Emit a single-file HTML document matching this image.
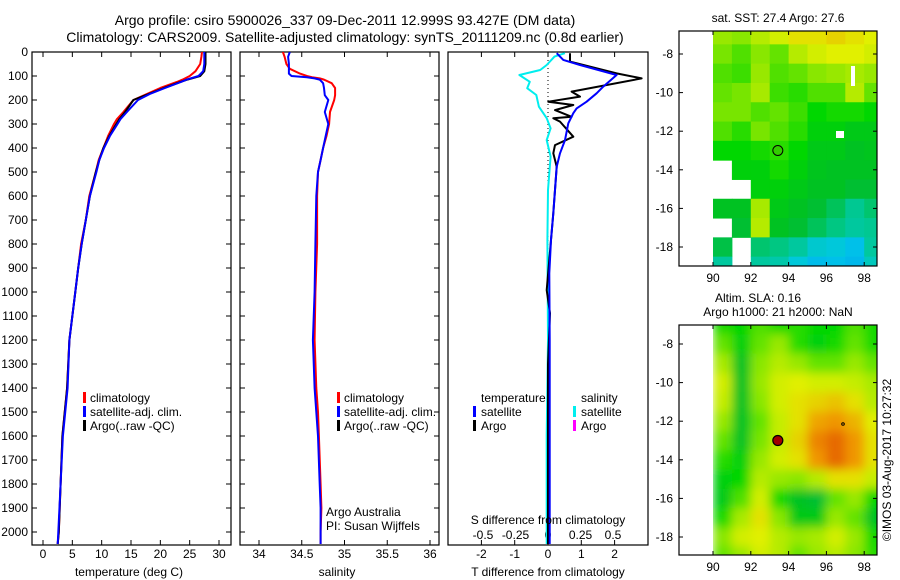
<!DOCTYPE html>
<html><head><meta charset="utf-8"><style>
html,body{margin:0;padding:0;background:#fff;}
svg{display:block;font-family:"Liberation Sans",sans-serif;}
text{fill:#000;}
</style></head><body>
<svg id="fig" width="900" height="580" viewBox="0 0 900 580">
<defs>
<clipPath id="clipTop"><rect x="679" y="31" width="198" height="235"/></clipPath>
<clipPath id="clipBot"><rect x="713" y="325" width="164" height="230"/></clipPath>
<clipPath id="clipP1"><rect x="32" y="52" width="199" height="493"/></clipPath>
<clipPath id="clipP2"><rect x="240" y="52" width="199" height="493"/></clipPath>
<clipPath id="clipP3"><rect x="448" y="52" width="200" height="493"/></clipPath>
<filter id="blurF" x="-10%" y="-10%" width="120%" height="120%"><feGaussianBlur stdDeviation="5"/></filter>
</defs>
<text x="345" y="25" font-size="14" text-anchor="middle">Argo profile: csiro 5900026_337 09-Dec-2011 12.999S 93.427E (DM data)</text>
<text x="345" y="42" font-size="14" text-anchor="middle">Climatology: CARS2009. Satellite-adjusted climatology: synTS_20111209.nc (0.8d earlier)</text>
<g id="p1"></g>
<g id="p2"></g>
<g id="p3"></g>
<g id="m1"></g>
<g id="m2"></g>
<text x="778" y="22" font-size="12" text-anchor="middle">sat. SST: 27.4 Argo: 27.6</text>
<text x="758" y="302" font-size="12" text-anchor="middle">Altim. SLA: 0.16</text>
<text x="778" y="316" font-size="12" text-anchor="middle">Argo h1000: 21 h2000: NaN</text>
<text x="0" y="0" font-size="12" text-anchor="middle" transform="translate(891,460) rotate(-90)">©IMOS 03-Aug-2017 10:27:32</text>
</svg>
<script>
// ---------- data ----------
const depthT = [0,20,50,80,100,115,125,150,175,200,250,280,300,350,400,450,500,600,700,800,900,1000,1200,1400,1600,1800,2000,2050];
const tempClim = [27.1,27.0,26.8,26.0,25.0,23.8,22.8,20.0,17.7,15.4,13.7,12.6,12.1,11.1,10.3,9.5,9.0,7.9,7.3,6.5,6.0,5.5,4.5,4.1,3.3,3.0,2.7,2.5];
const tempSat = [27.5,27.5,27.5,27.3,26.5,24.5,23.5,20.8,18.2,16.2,14.3,13.2,12.7,11.4,10.4,9.6,9.1,8.0,7.3,6.6,6.0,5.5,4.5,4.2,3.4,3.0,2.6,2.5];
const tempArgo = [27.7,27.7,27.7,27.5,26.8,24.6,23.4,20.6,18.0,15.4,14.0,13.0,12.5,11.3,10.3,9.6,9.0,8.0,7.3,6.6,6.0,5.5,4.5,4.1,3.3,3.0,2.7,2.5];
const depthS = [0,20,50,70,90,100,105,110,115,130,150,180,200,250,300,350,400,450,500,600,800,1000,1200,1400,1500,1600,1800,1900,2000,2050];
const salClim = [34.28,34.30,34.32,34.36,34.48,34.56,34.62,34.71,34.76,34.85,34.89,34.89,34.88,34.83,34.82,34.79,34.75,34.72,34.69,34.68,34.68,34.66,34.65,34.67,34.69,34.70,34.72,34.73,34.72,34.72];
const salSat = [34.36,34.34,34.35,34.35,34.35,34.38,34.56,34.65,34.71,34.75,34.76,34.77,34.81,34.77,34.81,34.78,34.75,34.72,34.69,34.67,34.66,34.65,34.63,34.65,34.67,34.69,34.71,34.72,34.72,34.72];
const depthDT = [5,33,54,96,144,172,207,235,255,297,367,422,478,575,672,783,922,1200,1600,2050];
const tdiffSat = [0.26,0.46,0.96,2.06,1.66,1.46,1.16,0.86,0.76,0.61,0.51,0.36,0.26,0.21,0.16,0.09,0.04,0.05,0.05,0.05];
const depthDA = [5,40,89,110,165,186,207,221,242,270,276,290,353,388,422,478,672,783,992,1088,1300,1600,2050];
const tdiffArgo = [0.66,0.66,2.06,2.81,0.71,0.96,0.01,0.76,0.21,0.71,0.16,0.36,0.76,0.21,0.16,0.26,0.16,0.09,-0.04,0.06,0.0,0.0,0.0];
const depthDS = [5,19,54,75,96,124,151,179,228,276,318,367,436,575,783,1200,1600,2050];
const sdiffSat = [0.13,0.05,-0.01,-0.06,-0.22,-0.14,-0.16,-0.09,-0.07,-0.01,0.02,-0.01,0.02,0.0,-0.005,0.0,-0.01,-0.01];
const depthTicks = [0,100,200,300,400,500,600,700,800,900,1000,1100,1200,1300,1400,1500,1600,1700,1800,1900,2000];
const tempTicks = [0,5,10,15,20,25,30];
const salTicks = [34,34.5,35,35.5,36];
const salTickLabels = ["34","34.5","35","35.5","36"];
const tdTicks = [-2,-1,0,1,2];
const sdTicks = [-0.5,-0.25,0,0.25,0.5];
const sdTickLabels = ["-0.5","-0.25","0","0.25","0.5"];
// map data (rows: lat -7 .. -19, cols: lon 90 .. 98), colour index 0..1
const mapLats = [-7,-8,-9,-10,-11,-12,-13,-14,-15,-16,-17,-18,-19];
const mapLons = [90,91,92,93,94,95,96,97,98];
const sstGrid = [
[0.68,0.66,0.72,0.76,0.80,0.80,0.82,0.80,0.78],
[0.64,0.60,0.66,0.62,0.72,0.76,0.78,0.78,0.76],
[0.60,0.58,0.68,0.60,0.62,0.66,0.68,0.70,0.68],
[0.62,0.64,0.70,0.58,0.56,0.60,0.60,0.72,0.62],
[0.64,0.64,0.60,0.62,0.58,0.52,0.54,0.54,0.52],
[0.60,0.56,0.64,0.60,0.56,0.50,0.50,0.48,0.48],
[0.52,0.52,0.54,0.56,0.52,0.48,0.48,0.46,0.47],
[null,0.50,0.50,0.54,0.50,0.47,0.46,0.46,0.46],
[null,null,0.50,0.50,0.48,0.46,0.46,0.44,0.44],
[0.46,0.46,0.70,0.48,0.46,0.44,0.40,0.34,0.38],
[null,0.44,0.72,0.46,0.44,0.40,0.36,0.32,0.34],
[0.42,null,0.38,0.36,0.32,0.24,0.22,0.18,0.32],
[0.32,null,0.32,0.30,0.22,0.17,0.18,0.16,0.27]];
const slaGrid = [
[0.54,0.52,0.60,0.54,0.56,0.52,0.52,0.60,0.54],
[0.62,0.50,0.62,0.68,0.56,0.50,0.54,0.62,0.54],
[0.70,0.46,0.66,0.72,0.68,0.62,0.62,0.68,0.62],
[0.76,0.46,0.68,0.76,0.78,0.76,0.76,0.74,0.70],
[0.74,0.46,0.66,0.76,0.80,0.82,0.84,0.80,0.72],
[0.68,0.46,0.62,0.74,0.80,0.88,0.90,0.86,0.78],
[0.62,0.46,0.64,0.74,0.82,0.92,0.95,0.90,0.80],
[0.56,0.50,0.68,0.76,0.80,0.90,0.95,0.90,0.80],
[0.50,0.52,0.72,0.68,0.66,0.72,0.80,0.80,0.74],
[0.48,0.60,0.76,0.54,0.46,0.44,0.62,0.68,0.52],
[0.54,0.70,0.80,0.66,0.48,0.48,0.68,0.62,0.46],
[0.66,0.76,0.78,0.72,0.68,0.70,0.76,0.68,0.54],
[0.62,0.68,0.76,0.72,0.62,0.68,0.72,0.66,0.56]];
const latTicks = [-8,-10,-12,-14,-16,-18];
const lonTicks = [90,92,94,96,98];
const floatLon = [93.43];
const floatLat = [-13.0];

// ---------- helpers ----------
const NS = "http://www.w3.org/2000/svg";
function mk(tag, parent, attrs){const e=document.createElementNS(NS,tag);for(const k in attrs)e.setAttribute(k,attrs[k]);parent.appendChild(e);return e;}
const yD = d => 52 + d*0.24;
const xT = t => 43 + t*5.867;
const xS = s => 259 + (s-34)*85.5;
const xTD = v => 548 + v*33.3;
const xSD = v => 548 + v*130;
const mxTop = lon => 713 + (lon-90)*18.9;
const myTop = lat => 54 + (-8-lat)*19.3;
const mxBot = lon => 713 + (lon-90)*18.9;
const myBot = lat => 344 + (-8-lat)*19.3;

function frame(g, x, w, name){
  const r = mk('rect', g, {x:x, y:52, width:w, height:493, fill:'none', stroke:'#000', 'stroke-width':1.2});
  
  
  depthTicks.forEach(d=>{
    mk('line', g, {x1:x, x2:x+5, y1:yD(d), y2:yD(d), stroke:'#000'});
    mk('line', g, {x1:x+w-5, x2:x+w, y1:yD(d), y2:yD(d), stroke:'#000'});
  });
}
function xticks(g, vals, labels, fx, y, name){
  vals.forEach((v,i)=>{
    const x = fx(v);
    mk('line', g, {x1:x, x2:x, y1:52, y2:57, stroke:'#000'});
    mk('line', g, {x1:x, x2:x, y1:540, y2:545, stroke:'#000'});
    const t = mk('text', g, {x:x, y:y, 'font-size':12, 'text-anchor':'middle'});
    t.textContent = labels[i];
    
    
  });
}
function line(g, xs, ds, fx, color, name, clip, sw){
  const pts = xs.map((v,i)=>fx(v).toFixed(1)+','+yD(ds[i]).toFixed(1)).join(' ');
  const p = mk('polyline', g, {points:pts, fill:'none', stroke:color, 'stroke-width':sw||2, 'clip-path':'url(#'+clip+')', 'stroke-linejoin':'round'});
  
  
}
function label(g, x, y, txt, name, anchor){
  const t = mk('text', g, {x:x, y:y, 'font-size':12, 'text-anchor':anchor||'start'});
  t.textContent = txt;
  
  
  return t;
}
function legendMark(g, x, y, color, name){
  const r = mk('rect', g, {x:x, y:y-10, width:3, height:11, fill:color});
  
  
}

// ---------- panel 1 ----------
const p1 = document.getElementById('p1');
frame(p1, 32, 199, 'temperature-plot-frame');
depthTicks.forEach(d=>{ label(p1, 28, yD(d)+4, String(d), 'depth-tick-label', 'end'); });
xticks(p1, tempTicks, tempTicks.map(String), xT, 558, 'temperature-tick-label');
line(p1, tempClim, depthT, xT, '#ff0000', 'temperature-climatology-line', 'clipP1');
line(p1, tempArgo, depthT, xT, '#000000', 'temperature-argo-line', 'clipP1');
line(p1, tempSat, depthT, xT, '#0000ff', 'temperature-satellite-line', 'clipP1');
label(p1, 129, 576, 'temperature (deg C)', 'temperature-axis-title', 'middle');
legendMark(p1, 83, 402, '#ff0000', 'legend-climatology-mark'); label(p1, 90, 402, 'climatology', 'legend-climatology');
legendMark(p1, 83, 416, '#0000ff', 'legend-satellite-mark'); label(p1, 90, 416, 'satellite-adj. clim.', 'legend-satellite');
legendMark(p1, 83, 430, '#000000', 'legend-argo-mark'); label(p1, 90, 430, 'Argo(..raw -QC)', 'legend-argo');

// ---------- panel 2 ----------
const p2 = document.getElementById('p2');
frame(p2, 240, 199, 'salinity-plot-frame');
xticks(p2, salTicks, salTickLabels, xS, 558, 'salinity-tick-label');
line(p2, salClim, depthS, xS, '#ff0000', 'salinity-climatology-line', 'clipP2');
line(p2, salSat, depthS, xS, '#0000ff', 'salinity-satellite-line', 'clipP2');
label(p2, 337, 576, 'salinity', 'salinity-axis-title', 'middle');
legendMark(p2, 337, 402, '#ff0000', 'legend-s-climatology-mark'); label(p2, 344, 402, 'climatology', 'legend-s-climatology');
legendMark(p2, 337, 416, '#0000ff', 'legend-s-satellite-mark'); label(p2, 344, 416, 'satellite-adj. clim.', 'legend-s-satellite');
legendMark(p2, 337, 430, '#000000', 'legend-s-argo-mark'); label(p2, 344, 430, 'Argo(..raw -QC)', 'legend-s-argo');
label(p2, 326, 516, 'Argo Australia', 'credit-argo-australia');
label(p2, 326, 530, 'PI: Susan Wijffels', 'credit-pi');

// ---------- panel 3 ----------
const p3 = document.getElementById('p3');
const fr3 = mk('rect', p3, {x:448, y:52, width:200, height:493, fill:'none', stroke:'#000', 'stroke-width':1.2});


mk('line', p3, {x1:xTD(0), x2:xTD(0), y1:52, y2:yD(900), stroke:'#000', 'stroke-dasharray':'1,3'});
tdTicks.forEach(v=>{
  const x = xTD(v);
  mk('line', p3, {x1:x, x2:x, y1:52, y2:57, stroke:'#000'});
  mk('line', p3, {x1:x, x2:x, y1:540, y2:545, stroke:'#000'});
  label(p3, x, 558, String(v), 'tdiff-tick-label', 'middle');
});
sdTicks.forEach((v,i)=>{ label(p3, xSD(v), 539, sdTickLabels[i], 'sdiff-tick-label', 'middle'); });
line(p3, sdiffSat, depthDS, xSD, '#00eeee', 'sdiff-satellite-line', 'clipP3');
line(p3, tdiffArgo, depthDA, xTD, '#000000', 'tdiff-argo-line', 'clipP3');
line(p3, tdiffSat, depthDT, xTD, '#0000ff', 'tdiff-satellite-line', 'clipP3');
label(p3, 548, 524, 'S difference from climatology', 'sdiff-axis-title', 'middle');
label(p3, 548, 576, 'T difference from climatology', 'tdiff-axis-title', 'middle');
label(p3, 481, 402, 'temperature', 'legend-temperature-heading');
legendMark(p3, 473, 416, '#0000ff', 'legend-t-satellite-mark'); label(p3, 481, 416, 'satellite', 'legend-t-satellite');
legendMark(p3, 473, 430, '#000000', 'legend-t-argo-mark'); label(p3, 481, 430, 'Argo', 'legend-t-argo');
label(p3, 581, 402, 'salinity', 'legend-salinity-heading');
legendMark(p3, 573, 416, '#00eeee', 'legend-sal-satellite-mark'); label(p3, 581, 416, 'satellite', 'legend-sal-satellite');
legendMark(p3, 573, 430, '#ff00ff', 'legend-sal-argo-mark'); label(p3, 581, 430, 'Argo', 'legend-sal-argo');

// ---------- maps ----------
const stops = [[0,[0,120,255]],[0.2,[0,200,230]],[0.35,[0,200,140]],[0.45,[0,190,40]],[0.52,[0,215,0]],[0.65,[130,230,0]],[0.78,[225,240,0]],[0.9,[240,150,0]],[1,[220,60,0]]];
function cmap(v){
  for(let i=1;i<stops.length;i++){
    if(v<=stops[i][0]){
      const a=stops[i-1],b=stops[i],f=(v-a[0])/(b[0]-a[0]);
      const c=a[1].map((x,k)=>Math.round(x+(b[1][k]-x)*f));
      return 'rgb('+c.join(',')+')';
    }
  }
  return 'rgb(220,60,0)';
}
function drawMap(g, grid, fx, fy, clip, name, blur, extend){
  const cg = mk('g', g, {'clip-path':'url(#'+clip+')'});
  const inner = blur ? mk('g', cg, {filter:'url(#blurF)'}) : cg;
  grid.forEach((row,j)=>row.forEach((v,i)=>{
    if(v===null) return;
    let lon0 = mapLons[i], lon1 = mapLons[i]+1, lat0 = mapLats[j]+0.5, lat1 = mapLats[j]-0.5;
    if(extend){
      if(j===0) lat0 += 2;
      if(j===grid.length-1) lat1 -= 2;
      if(i===row.length-1) lon1 += 2;
    }
    const x0 = fx(lon0), y0 = fy(lat0);
    const r = mk('rect', inner, {x:x0, y:y0, width:fx(lon1)-x0+0.5, height:fy(lat1)-y0+0.5, fill:cmap(v)});
    
    
  }));
}
function mapAxes(g, x, y, w, h, fx, fy, name){
  const r = mk('rect', g, {x:x, y:y, width:w, height:h, fill:'none', stroke:'#000', 'stroke-width':1.2});
  
  
  latTicks.forEach(l=>{
    const yy = fy(l);
    mk('line', g, {x1:x, x2:x+4, y1:yy, y2:yy, stroke:'#000'});
    mk('line', g, {x1:x+w-4, x2:x+w, y1:yy, y2:yy, stroke:'#000'});
    label(g, x-6, yy+4, String(l), 'map-lat-tick-label', 'end');
  });
  lonTicks.forEach(l=>{
    const xx = fx(l);
    mk('line', g, {x1:xx, x2:xx, y1:y, y2:y+4, stroke:'#000'});
    mk('line', g, {x1:xx, x2:xx, y1:y+h-4, y2:y+h, stroke:'#000'});
    label(g, xx, y+h+16, String(l), 'map-lon-tick-label', 'middle');
  });
}
const m1 = document.getElementById('m1');
drawMap(m1, sstGrid, mxTop, myTop, 'clipTop', 'sst-cell', false, true);
mapAxes(m1, 679, 31, 198, 235, mxTop, myTop, 'sst-map-frame');
floatLon.forEach((lon,i)=>{
  const c = mk('circle', m1, {cx:mxTop(lon), cy:myTop(floatLat[i]), r:5, fill:'#33cc00', stroke:'#000', 'stroke-width':1});
  
  
});
mk('rect', m1, {x:836, y:131, width:8, height:7, fill:'#fff'});
mk('rect', m1, {x:851, y:66, width:4, height:20, fill:'#fff'});

const m2 = document.getElementById('m2');
drawMap(m2, slaGrid, mxBot, myBot, 'clipBot', 'sla-cell', true, true);
mapAxes(m2, 679, 325, 198, 230, mxBot, myBot, 'sla-map-frame');
floatLon.forEach((lon,i)=>{
  const c = mk('circle', m2, {cx:mxBot(lon), cy:myBot(floatLat[i]), r:5, fill:'#a00000', stroke:'#000', 'stroke-width':1.2});
  
  
});
mk('circle', m2, {cx:843, cy:424, r:1.3, fill:'none', stroke:'#000'});
</script>
</body></html>
